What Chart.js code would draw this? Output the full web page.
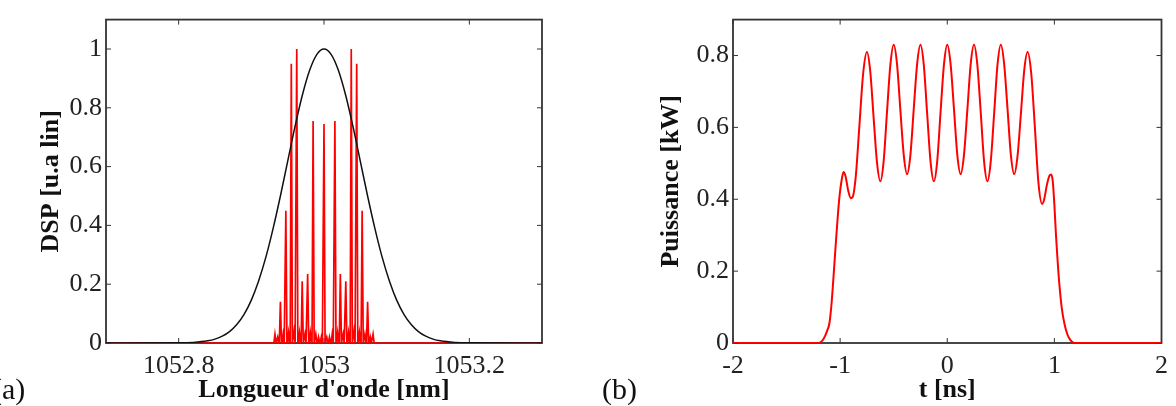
<!DOCTYPE html>
<html>
<head>
<meta charset="utf-8">
<script src="https://cdn.jsdelivr.net/npm/chart.js@4/dist/chart.umd.min.js"></script>
<style>
  body { margin: 0; background: #fff; width: 1176px; height: 406px; overflow: hidden; position: relative; }
  canvas { position: absolute; top: 0; }
  #cA { left: 0; }
  #cB { left: 580px; }
  .tag { position: absolute; top: 372px; font: 30px "Liberation Serif", "Times New Roman", serif; color: #111; }
</style>
</head>
<body>
<canvas id="cA" width="560" height="406"></canvas>
<canvas id="cB" width="596" height="406"></canvas>
<div class="tag" style="left:-8px">(a)</div>
<div class="tag" style="left:602px">(b)</div>
<script>
// (a) spectre : raies du peigne (nm) et hauteurs lues
var lineNm = [1052.9325, 1052.94, 1052.9475, 1052.955, 1052.9625, 1052.97, 1052.9775, 1052.985, 1052.9925,
              1053.0, 1053.0075, 1053.015, 1053.0225, 1053.03, 1053.0375, 1053.045, 1053.0525, 1053.06, 1053.0675];
var lineDsp = [0.03, 0.14, 0.45, 0.95, 1.0, 0.21, 0.235, 0.755, 0.02,
               0.745, 0.02, 0.755, 0.235, 0.21, 1.0, 0.95, 0.45, 0.14, 0.03];
// petites bosses au pied des raies
var bumpNm = [1052.93625, 1052.94375, 1052.95125, 1052.95875, 1052.96625, 1052.97375, 1052.98125, 1052.98875, 1052.99625,
              1053.00375, 1053.01125, 1053.01875, 1053.02625, 1053.03375, 1053.04125, 1053.04875, 1053.05625, 1053.06375];
var bumpDsp = [0.02, 0.03, 0.035, 0.04, 0.035, 0.03, 0.035, 0.03, 0.02,
               0.02, 0.03, 0.035, 0.03, 0.035, 0.04, 0.035, 0.03, 0.02];

// (a) spectre initial (courbe noire)
var gaussNm = [1052.7, 1052.8, 1052.82, 1052.84, 1052.85, 1052.86, 1052.87, 1052.88, 1052.89, 1052.9, 1052.91,
               1052.92, 1052.93, 1052.94, 1052.95, 1052.96, 1052.97, 1052.98, 1052.99, 1053.0,
               1053.01, 1053.02, 1053.03, 1053.04, 1053.05, 1053.06, 1053.07, 1053.08, 1053.09, 1053.1,
               1053.11, 1053.12, 1053.13, 1053.14, 1053.15, 1053.16, 1053.18, 1053.2, 1053.3];
var gaussDsp = [0, 0.0005, 0.002, 0.0073, 0.0132, 0.0231, 0.0388, 0.0627, 0.0976, 0.146, 0.211,
                0.292, 0.39, 0.5, 0.618, 0.735, 0.841, 0.926, 0.981, 1.0,
                0.981, 0.926, 0.841, 0.735, 0.618, 0.5, 0.39, 0.292, 0.211, 0.146,
                0.0976, 0.0627, 0.0388, 0.0231, 0.0132, 0.0073, 0.002, 0.0005, 0];

// (b) puissance temporelle
var tNs = [-2, -1.2, -1.17, -1.14, -1.12, -1.1, -1.08, -1.065, -1.05, -1.035, -1.02, -1.005, -0.985, -0.968,
           -0.95, -0.925, -0.9, -0.885, -0.855, -0.82, -0.785, -0.75, -0.719, -0.688, -0.656, -0.625,
           -0.594, -0.563, -0.531, -0.5, -0.469, -0.438, -0.406, -0.375, -0.344, -0.313, -0.281, -0.25,
           -0.219, -0.188, -0.156, -0.125, -0.094, -0.063, -0.031, 0, 0.031, 0.063, 0.094, 0.125,
           0.156, 0.188, 0.219, 0.25, 0.281, 0.313, 0.344, 0.375, 0.406, 0.438, 0.469, 0.5,
           0.531, 0.563, 0.594, 0.625, 0.656, 0.688, 0.719, 0.75, 0.784, 0.818, 0.851, 0.885,
           0.905, 0.93, 0.955, 0.97, 0.985, 1.0, 1.015, 1.03, 1.046, 1.07, 1.093, 1.12, 1.15, 1.186, 2];
var pKw = [0, 0, 0.005, 0.02, 0.035, 0.055, 0.11, 0.17, 0.235, 0.3, 0.36, 0.41, 0.455, 0.476,
           0.465, 0.425, 0.403, 0.405, 0.46, 0.605, 0.75, 0.81, 0.757, 0.63, 0.503, 0.45,
           0.505, 0.64, 0.774, 0.83, 0.777, 0.65, 0.523, 0.47, 0.523, 0.65, 0.777, 0.83,
           0.774, 0.64, 0.505, 0.45, 0.505, 0.64, 0.774, 0.83, 0.777, 0.65, 0.523, 0.47,
           0.523, 0.65, 0.777, 0.83, 0.774, 0.64, 0.505, 0.45, 0.505, 0.64, 0.774, 0.83,
           0.777, 0.65, 0.523, 0.47, 0.52, 0.64, 0.76, 0.81, 0.75, 0.6, 0.447, 0.387,
           0.4, 0.44, 0.466, 0.469, 0.45, 0.385, 0.3, 0.23, 0.165, 0.095, 0.055, 0.025, 0.008, 0, 0];

var xTicksA = [1052.8, 1053, 1053.2];
var yTicksA = [0, 0.2, 0.4, 0.6, 0.8, 1];
var xTicksB = [-2, -1, 0, 1, 2];
var yTicksB = [0, 0.2, 0.4, 0.6, 0.8];

Chart.defaults.font.family = '"Liberation Serif", "Times New Roman", serif';
Chart.defaults.font.size = 26;
Chart.defaults.color = '#222';

// raies fines : chaque raie est un petit triangle posé sur zéro
var halfW = 0.0015;
var peaks = lineNm.map(function (x, i) { return {x: x, y: lineDsp[i]}; })
  .concat(bumpNm.map(function (x, i) { return {x: x, y: bumpDsp[i]}; }))
  .sort(function (a, b) { return a.x - b.x; });
var specPts = [{x: 1052.7, y: 0}];
peaks.forEach(function (p) {
  specPts.push({x: p.x - halfW, y: 0}, {x: p.x, y: p.y}, {x: p.x + halfW, y: 0});
});
specPts.push({x: 1053.3, y: 0});

var frameTicks = {
  id: 'frameTicks',
  beforeDatasetsDraw: function (chart) {
    var ctx = chart.ctx, a = chart.chartArea, x = chart.scales.x, y = chart.scales.y;
    ctx.save();
    ctx.strokeStyle = '#333';
    ctx.lineWidth = 1.8;
    ctx.strokeRect(a.left, a.top, a.right - a.left, a.bottom - a.top);
    ctx.lineWidth = 1;
    ctx.beginPath();
    x.ticks.forEach(function (t) {
      var px = x.getPixelForValue(t.value);
      ctx.moveTo(px, a.bottom); ctx.lineTo(px, a.bottom - 5);
      ctx.moveTo(px, a.top); ctx.lineTo(px, a.top + 5);
    });
    y.ticks.forEach(function (t) {
      var py = y.getPixelForValue(t.value);
      ctx.moveTo(a.left, py); ctx.lineTo(a.left + 5, py);
      ctx.moveTo(a.right, py); ctx.lineTo(a.right - 5, py);
    });
    ctx.stroke();
    ctx.restore();
  }
};

function axes(xmin, xmax, xt, ymin, ymax, yt, xTitle, yTitle, yWidth, yTitlePad) {
  return {
    x: {
      type: 'linear', min: xmin, max: xmax,
      afterBuildTicks: function (s) { s.ticks = xt.map(function (v) { return {value: v}; }); },
      afterFit: function (s) { s.height = 63; },
      ticks: { autoSkip: false, maxRotation: 0, padding: 8, callback: function (v) { return String(v); } },
      grid: { display: false, drawTicks: false },
      border: { display: false },
      title: { display: true, text: xTitle, font: { weight: 'bold', size: 26 }, color: '#111', padding: { top: 0, bottom: 0 } }
    },
    y: {
      type: 'linear', min: ymin, max: ymax,
      afterBuildTicks: function (s) { s.ticks = yt.map(function (v) { return {value: v}; }); },
      afterFit: function (s) { s.width = yWidth; },
      ticks: { autoSkip: false, padding: 4, callback: function (v) { return String(v); } },
      grid: { display: false, drawTicks: false },
      border: { display: false },
      title: { display: true, text: yTitle, font: { weight: 'bold', size: 26 }, color: '#111', padding: { top: yTitlePad, bottom: 0 } }
    }
  };
}

new Chart(document.getElementById('cA'), {
  type: 'line',
  data: {
    datasets: [
      { data: gaussNm.map(function (x, i) { return {x: x, y: gaussDsp[i]}; }), borderColor: '#111', borderWidth: 1.5,
        pointRadius: 0, cubicInterpolationMode: 'monotone', fill: false },
      { data: specPts, borderColor: '#ff0000', borderWidth: 1.7, pointRadius: 0, tension: 0, fill: false }
    ]
  },
  options: {
    responsive: false, animation: false, devicePixelRatio: 1,
    layout: { padding: { top: 12, right: 18, left: 0, bottom: 0 } },
    plugins: { legend: { display: false }, tooltip: { enabled: false } },
    scales: axes(1052.7, 1053.3, xTicksA, 0, 1.1, yTicksA, "Longueur d'onde [nm]", 'DSP [u.a lin]', 106, 36)
  },
  plugins: [frameTicks]
});

new Chart(document.getElementById('cB'), {
  type: 'line',
  data: {
    datasets: [
      { data: tNs.map(function (x, i) { return {x: x, y: pKw[i]}; }), borderColor: '#ff0000', borderWidth: 2,
        pointRadius: 0, cubicInterpolationMode: 'monotone', fill: false }
    ]
  },
  options: {
    responsive: false, animation: false, devicePixelRatio: 1,
    layout: { padding: { top: 17, right: 13, left: 0, bottom: 0 } },
    plugins: { legend: { display: false }, tooltip: { enabled: false } },
    scales: axes(-2, 2, xTicksB, 0, 0.9, yTicksB, 't [ns]', 'Puissance [kW]', 153, 76)
  },
  plugins: [frameTicks]
});
</script>
</body>
</html>
